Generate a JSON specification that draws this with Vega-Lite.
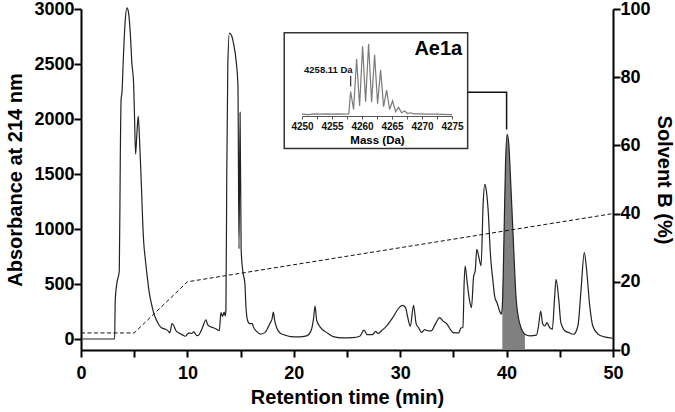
{
  "$schema": "https://vega.github.io/schema/vega-lite/v6.json",
  "width": 532,
  "height": 341,
  "autosize": "none",
  "padding": {"left": 81, "top": 9, "right": 62, "bottom": 62},
  "background": "white",
  "config": {
    "view": {"stroke": null},
    "font": "Liberation Sans",
    "axis": {
      "grid": false,
      "domainColor": "black",
      "domainWidth": 2,
      "tickColor": "black",
      "tickWidth": 2,
      "tickSize": 7,
      "labelFont": "Liberation Sans",
      "labelFontSize": 18,
      "labelFontWeight": "bold",
      "labelColor": "black",
      "titleFont": "Liberation Sans",
      "titleFontSize": 20,
      "titleFontWeight": "bold",
      "titleColor": "black",
      "labelOverlap": false,
      "labelFlush": false
    }
  },
  "datasets": {
    "chrom": [
      {"t": 0, "A": 0}, {"t": 3.1, "A": 0}, {"t": 3.16, "A": 0}, {"t": 3.22, "A": 360}, {"t": 3.38, "A": 512},
      {"t": 3.6, "A": 618}, {"t": 3.7, "A": 1720}, {"t": 3.77, "A": 2180}, {"t": 3.85, "A": 2240}, {"t": 4.0, "A": 2600},
      {"t": 4.16, "A": 2900}, {"t": 4.32, "A": 3010}, {"t": 4.47, "A": 2965}, {"t": 4.63, "A": 2783}, {"t": 4.78, "A": 2510},
      {"t": 4.94, "A": 2330}, {"t": 5.03, "A": 2025}, {"t": 5.13, "A": 1680}, {"t": 5.26, "A": 1880}, {"t": 5.38, "A": 2026},
      {"t": 5.5, "A": 1814}, {"t": 5.63, "A": 1511}, {"t": 5.88, "A": 900}, {"t": 6.05, "A": 720}, {"t": 6.2, "A": 590},
      {"t": 6.4, "A": 430}, {"t": 6.6, "A": 330}, {"t": 6.85, "A": 230}, {"t": 7.1, "A": 170}, {"t": 7.35, "A": 125},
      {"t": 7.6, "A": 100}, {"t": 7.9, "A": 90}, {"t": 8.2, "A": 72}, {"t": 8.35, "A": 55}, {"t": 8.55, "A": 140},
      {"t": 8.7, "A": 125}, {"t": 8.9, "A": 80}, {"t": 9.2, "A": 55}, {"t": 9.5, "A": 40}, {"t": 9.8, "A": 25},
      {"t": 10.0, "A": 45}, {"t": 10.2, "A": 55}, {"t": 10.4, "A": 50}, {"t": 10.6, "A": 65}, {"t": 10.9, "A": 30},
      {"t": 11.1, "A": 40}, {"t": 11.4, "A": 100}, {"t": 11.75, "A": 175}, {"t": 11.9, "A": 130}, {"t": 12.2, "A": 110},
      {"t": 12.5, "A": 100}, {"t": 12.8, "A": 85}, {"t": 13.0, "A": 75}, {"t": 13.15, "A": 240}, {"t": 13.3, "A": 205},
      {"t": 13.45, "A": 245}, {"t": 13.55, "A": 210}, {"t": 13.62, "A": 260}, {"t": 13.7, "A": 1500}, {"t": 13.8, "A": 2500},
      {"t": 13.95, "A": 2780}, {"t": 14.15, "A": 2760}, {"t": 14.35, "A": 2680}, {"t": 14.6, "A": 2510}, {"t": 14.75, "A": 2300},
      {"t": 14.85, "A": 820}, {"t": 14.95, "A": 2060}, {"t": 15.05, "A": 820}, {"t": 15.2, "A": 620}, {"t": 15.4, "A": 510},
      {"t": 15.5, "A": 300}, {"t": 15.65, "A": 170}, {"t": 15.85, "A": 140}, {"t": 16.1, "A": 140}, {"t": 16.2, "A": 110},
      {"t": 16.5, "A": 70}, {"t": 16.9, "A": 45}, {"t": 17.3, "A": 60}, {"t": 17.6, "A": 110}, {"t": 17.8, "A": 150},
      {"t": 17.95, "A": 180}, {"t": 18.08, "A": 245}, {"t": 18.2, "A": 170}, {"t": 18.4, "A": 100}, {"t": 18.7, "A": 55},
      {"t": 19.2, "A": 35}, {"t": 19.7, "A": 22}, {"t": 20.5, "A": 20}, {"t": 21.2, "A": 28}, {"t": 21.6, "A": 70},
      {"t": 21.85, "A": 180}, {"t": 22.0, "A": 300}, {"t": 22.15, "A": 170}, {"t": 22.5, "A": 105}, {"t": 23.1, "A": 58},
      {"t": 23.7, "A": 22}, {"t": 24.6, "A": 10}, {"t": 25.5, "A": 12}, {"t": 26.2, "A": 25}, {"t": 26.6, "A": 80},
      {"t": 26.9, "A": 40}, {"t": 27.4, "A": 40}, {"t": 27.7, "A": 70}, {"t": 27.9, "A": 50}, {"t": 28.3, "A": 80},
      {"t": 28.6, "A": 105}, {"t": 29.3, "A": 195}, {"t": 29.9, "A": 285}, {"t": 30.2, "A": 305}, {"t": 30.5, "A": 285},
      {"t": 30.7, "A": 200}, {"t": 30.95, "A": 115}, {"t": 31.25, "A": 305}, {"t": 31.5, "A": 140}, {"t": 31.75, "A": 100},
      {"t": 32.0, "A": 60}, {"t": 32.3, "A": 85}, {"t": 32.6, "A": 75}, {"t": 32.9, "A": 73}, {"t": 33.3, "A": 135},
      {"t": 33.7, "A": 195}, {"t": 34.0, "A": 165}, {"t": 34.4, "A": 135}, {"t": 34.7, "A": 88}, {"t": 35.0, "A": 58},
      {"t": 35.5, "A": 55}, {"t": 35.7, "A": 100}, {"t": 35.9, "A": 105}, {"t": 36.0, "A": 480}, {"t": 36.1, "A": 663},
      {"t": 36.3, "A": 510}, {"t": 36.5, "A": 360}, {"t": 36.7, "A": 285}, {"t": 36.9, "A": 570}, {"t": 37.05, "A": 620},
      {"t": 37.2, "A": 815}, {"t": 37.4, "A": 740}, {"t": 37.6, "A": 665}, {"t": 37.8, "A": 1240}, {"t": 37.95, "A": 1405},
      {"t": 38.1, "A": 1345}, {"t": 38.3, "A": 1117}, {"t": 38.45, "A": 815}, {"t": 38.7, "A": 542}, {"t": 38.9, "A": 376},
      {"t": 39.1, "A": 330}, {"t": 39.4, "A": 240}, {"t": 39.5, "A": 225}, {"t": 39.6, "A": 300}, {"t": 39.75, "A": 900},
      {"t": 39.9, "A": 1600}, {"t": 40.05, "A": 1860}, {"t": 40.2, "A": 1780}, {"t": 40.35, "A": 1500}, {"t": 40.6, "A": 966},
      {"t": 40.9, "A": 361}, {"t": 41.1, "A": 200}, {"t": 41.3, "A": 118}, {"t": 41.5, "A": 70}, {"t": 41.72, "A": 43},
      {"t": 42.2, "A": 28}, {"t": 42.8, "A": 35}, {"t": 43.0, "A": 118}, {"t": 43.2, "A": 254}, {"t": 43.4, "A": 134},
      {"t": 43.6, "A": 118}, {"t": 43.8, "A": 149}, {"t": 44.0, "A": 110}, {"t": 44.3, "A": 88}, {"t": 44.5, "A": 361},
      {"t": 44.65, "A": 542}, {"t": 44.9, "A": 361}, {"t": 45.1, "A": 149}, {"t": 45.5, "A": 73}, {"t": 45.8, "A": 60},
      {"t": 46.3, "A": 43}, {"t": 46.7, "A": 118}, {"t": 47.0, "A": 451}, {"t": 47.3, "A": 785}, {"t": 47.5, "A": 648},
      {"t": 47.8, "A": 315}, {"t": 48.1, "A": 118}, {"t": 48.6, "A": 43}, {"t": 49.2, "A": 19}, {"t": 50.0, "A": 7}
    ],
    "solvent": [
      {"t": 0, "B": 5}, {"t": 5, "B": 5}, {"t": 10, "B": 20}, {"t": 50, "B": 40}
    ],
    "box": [
      {"t": 19.1, "t2": 36.34, "A": 2783, "A2": 1732}
    ],
    "conn": [
      {"i": 0, "t": 36.34, "A": 2243}, {"i": 1, "t": 40.0, "A": 2243}, {"i": 2, "t": 40.0, "A": 1905}
    ],
    "spec": [
      {"mass": 4250, "I": 2.5}, {"mass": 4251, "I": 2}, {"mass": 4252, "I": 3}, {"mass": 4253, "I": 2.5},
      {"mass": 4254, "I": 3}, {"mass": 4255, "I": 2.5}, {"mass": 4256, "I": 3}, {"mass": 4257, "I": 2.5},
      {"mass": 4257.8, "I": 3}, {"mass": 4258.1, "I": 34}, {"mass": 4258.6, "I": 9}, {"mass": 4259.1, "I": 79},
      {"mass": 4259.6, "I": 14}, {"mass": 4260.1, "I": 97}, {"mass": 4260.6, "I": 20}, {"mass": 4261.1, "I": 100},
      {"mass": 4261.6, "I": 19}, {"mass": 4262.1, "I": 85}, {"mass": 4262.6, "I": 17}, {"mass": 4263.1, "I": 64},
      {"mass": 4263.6, "I": 13}, {"mass": 4264.1, "I": 36}, {"mass": 4264.6, "I": 9}, {"mass": 4265.1, "I": 21},
      {"mass": 4265.6, "I": 6}, {"mass": 4266.1, "I": 12}, {"mass": 4266.6, "I": 4.5}, {"mass": 4267.1, "I": 7},
      {"mass": 4267.6, "I": 3.5}, {"mass": 4268.1, "I": 4.5}, {"mass": 4268.6, "I": 3}, {"mass": 4269.5, "I": 3},
      {"mass": 4270.5, "I": 2.5}, {"mass": 4272, "I": 2.5}, {"mass": 4275, "I": 2}
    ],
    "ann": [
      {"mass": 4258.11, "label": "4258.11 Da", "I": 60, "Ilo": 41, "Ihi": 56}
    ]
  },
  "layer": [
    {
      "layer": [
        {
          "layer": [
            {
              "data": {"name": "box"},
              "mark": {"type": "rect", "fill": "white", "fillOpacity": 0, "stroke": "#333333", "strokeWidth": 1.5},
              "encoding": {
                "x": {"field": "t", "type": "quantitative", "scale": {"domain": [0, 50], "nice": false, "zero": false}, "title": "Retention time (min)"},
                "x2": {"field": "t2"},
                "y": {"field": "A", "type": "quantitative", "scale": {"domain": [-100, 3000], "nice": false, "zero": false}, "title": "Absorbance at 214 nm"},
                "y2": {"field": "A2"}
              }
            },
            {
              "data": {"name": "conn"},
              "mark": {"type": "line", "color": "#111111", "strokeWidth": 1.5},
              "encoding": {
                "x": {"field": "t", "type": "quantitative", "title": "Retention time (min)"},
                "y": {"field": "A", "type": "quantitative", "title": "Absorbance at 214 nm"},
                "order": {"field": "i"}
              }
            },
            {
              "data": {"name": "chrom"},
              "transform": [{"filter": "datum.t >= 39.6 && datum.t <= 41.72"}],
              "mark": {"type": "area", "color": "#808080", "interpolate": "monotone"},
              "encoding": {
                "x": {"field": "t", "type": "quantitative", "title": "Retention time (min)"},
                "y": {"field": "A", "type": "quantitative", "title": "Absorbance at 214 nm"},
                "y2": {"datum": -100}
              }
            },
            {
              "data": {"name": "chrom"},
              "mark": {"type": "line", "color": "#222222", "strokeWidth": 1.2, "interpolate": "monotone"},
              "encoding": {
                "x": {
                  "field": "t", "type": "quantitative",
                  "scale": {"domain": [0, 50], "nice": false, "zero": false},
                  "title": "Retention time (min)",
                  "axis": {
                    "orient": "bottom",
                    "values": [0, 5, 10, 15, 20, 25, 30, 35, 40, 45, 50],
                    "format": "d",
                    "labelExpr": "datum.value % 10 === 0 ? datum.label : ''",
                    "labelPadding": 7,
                    "titlePadding": 5
                  }
                },
                "y": {
                  "field": "A", "type": "quantitative",
                  "scale": {"domain": [-100, 3000], "nice": false, "zero": false},
                  "title": "Absorbance at 214 nm",
                  "axis": {
                    "orient": "left",
                    "values": [0, 500, 1000, 1500, 2000, 2500, 3000],
                    "format": "d",
                    "labelPadding": 0,
                    "titlePadding": 8
                  }
                }
              }
            }
          ]
        },
        {
          "data": {"name": "solvent"},
          "mark": {"type": "line", "color": "#111111", "strokeWidth": 1, "strokeDash": [4, 2.5]},
          "encoding": {
            "x": {"field": "t", "type": "quantitative", "title": "Retention time (min)"},
            "y": {
              "field": "B", "type": "quantitative",
              "scale": {"domain": [0, 100], "nice": false, "zero": false},
              "title": "Solvent B (%)",
              "axis": {
                "orient": "right",
                "values": [0, 20, 40, 60, 80, 100],
                "format": "d",
                "labelPadding": 0,
                "titlePadding": 3,
                "titleAngle": 90
              }
            }
          }
        }
      ],
      "resolve": {"scale": {"y": "independent"}}
    },
    {
      "layer": [
        {
          "data": {"name": "spec"},
          "mark": {"type": "line", "color": "#7a7a7a", "strokeWidth": 1.2},
          "encoding": {
            "x": {
              "field": "mass", "type": "quantitative",
              "scale": {"domain": [4250, 4275], "range": [221, 371], "nice": false, "zero": false},
              "title": "Mass (Da)",
              "axis": {
                "orient": "bottom",
                "offset": -234,
                "zindex": 2,
                "values": [4250, 4252.5, 4255, 4257.5, 4260, 4262.5, 4265, 4267.5, 4270, 4272.5, 4275],
                "format": "d",
                "labelExpr": "datum.value % 5 === 0 ? datum.label : ''",
                "domainColor": "#555555",
                "domainWidth": 1,
                "tickColor": "#555555",
                "tickWidth": 1,
                "tickSize": 3,
                "labelFontSize": 10,
                "labelPadding": 2,
                "labelColor": "#111111",
                "titleFontSize": 11.5,
                "titlePadding": 3
              }
            },
            "y": {
              "field": "I", "type": "quantitative",
              "scale": {"domain": [0, 100], "range": [107, 35], "nice": false, "zero": false},
              "axis": null
            }
          }
        },
        {
          "data": {"name": "ann"},
          "mark": {"type": "rule", "color": "#333333", "strokeWidth": 1.2},
          "encoding": {
            "x": {"field": "mass", "type": "quantitative", "title": "Mass (Da)"},
            "y": {"field": "Ilo", "type": "quantitative"},
            "y2": {"field": "Ihi"}
          }
        },
        {
          "data": {"name": "ann"},
          "mark": {"type": "text", "align": "right", "baseline": "alphabetic", "dx": 2, "fontSize": 9.5, "fontWeight": "bold", "color": "#111111"},
          "encoding": {
            "x": {"field": "mass", "type": "quantitative", "title": "Mass (Da)"},
            "y": {"field": "I", "type": "quantitative"},
            "text": {"field": "label"}
          }
        },
        {
          "data": {"values": [{"name": "Ae1a"}]},
          "mark": {"type": "text", "align": "right", "baseline": "alphabetic", "fontSize": 20, "fontWeight": "bold", "color": "black"},
          "encoding": {
            "x": {"datum": 4276.7, "type": "quantitative"},
            "y": {"datum": 85, "type": "quantitative"},
            "text": {"field": "name"}
          }
        }
      ]
    }
  ],
  "resolve": {"scale": {"x": "independent", "y": "independent"}}
}
